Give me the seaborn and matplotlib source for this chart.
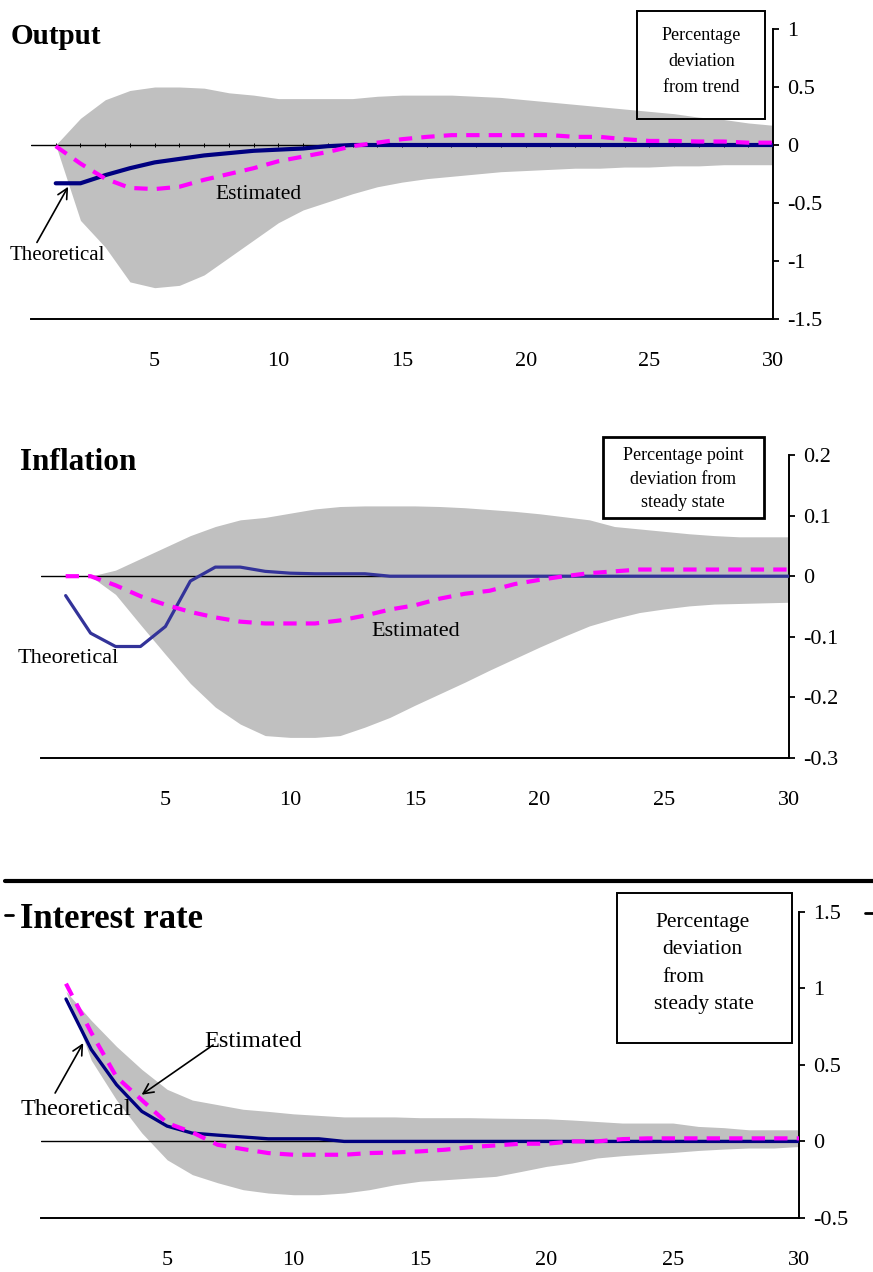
import numpy as np
import matplotlib.pyplot as plt
from matplotlib.patches import Rectangle
from matplotlib.lines import Line2D
import seaborn as sns

sns.set_style('white')
plt.rcParams['font.family'] = ['Liberation Serif', 'DejaVu Serif']
plt.rcParams['axes.unicode_minus'] = False
plt.rcParams['text.color'] = 'black'
plt.rcParams['xtick.color'] = 'black'
plt.rcParams['ytick.color'] = 'black'

W, H = 873, 1272
periods = np.arange(1, 31)
xticks = [0, 5, 10, 15, 20, 25, 30]
xlabels = ['', '5', '10', '15', '20', '25', '30']

# Output
out_upper = [0.0, 0.23, 0.39, 0.47, 0.50, 0.50, 0.49, 0.45, 0.43, 0.40,
             0.40, 0.40, 0.40, 0.42, 0.43, 0.43, 0.43, 0.42, 0.41, 0.39,
             0.37, 0.35, 0.33, 0.31, 0.29, 0.27, 0.24, 0.22, 0.19, 0.17]
out_lower = [0.0, -0.65, -0.88, -1.18, -1.23, -1.21, -1.12, -0.97, -0.82, -0.67,
             -0.56, -0.49, -0.42, -0.36, -0.32, -0.29, -0.27, -0.25, -0.23, -0.22,
             -0.21, -0.20, -0.20, -0.19, -0.19, -0.18, -0.18, -0.17, -0.17, -0.17]
out_theo = [-0.33, -0.33, -0.26, -0.20, -0.15, -0.12, -0.09, -0.07, -0.05, -0.04,
            -0.03, -0.01, 0, 0, 0, 0, 0, 0, 0, 0,
            0, 0, 0, 0, 0, 0, 0, 0, 0, 0]
out_est = [-0.01, -0.16, -0.29, -0.37, -0.38, -0.36, -0.30, -0.25, -0.20, -0.14,
           -0.10, -0.06, -0.01, 0.02, 0.05, 0.07, 0.085, 0.085, 0.085, 0.085,
           0.085, 0.07, 0.07, 0.05, 0.035, 0.035, 0.03, 0.03, 0.02, 0.02]
out_yticks = [-1.5, -1, -0.5, 0, 0.5, 1]
out_ylabels = ['-1.5', '-1', '-0.5', '0', '0.5', '1']

# Inflation
inf_upper = [0.0, 0.0, 0.01, 0.029, 0.048, 0.067, 0.082, 0.093, 0.097, 0.104,
             0.111, 0.115, 0.116, 0.116, 0.116, 0.115, 0.113, 0.110, 0.107, 0.103,
             0.098, 0.093, 0.082, 0.078, 0.074, 0.070, 0.067, 0.065, 0.065, 0.065]
inf_lower = [0.0, 0.0, -0.030, -0.080, -0.129, -0.177, -0.216, -0.244, -0.263, -0.266,
             -0.266, -0.263, -0.249, -0.233, -0.213, -0.194, -0.175, -0.155, -0.136, -0.117,
             -0.099, -0.082, -0.070, -0.060, -0.054, -0.049, -0.046, -0.045, -0.044, -0.043]
inf_theo = [-0.032, -0.094, -0.116, -0.116, -0.083, -0.008, 0.015, 0.015, 0.008, 0.005,
            0.004, 0.004, 0.004, 0, 0, 0, 0, 0, 0, 0,
            0, 0, 0, 0, 0, 0, 0, 0, 0, 0]
inf_est = [0.0, 0.0, -0.015, -0.033, -0.047, -0.059, -0.068, -0.075, -0.078, -0.078,
           -0.078, -0.073, -0.065, -0.055, -0.048, -0.037, -0.029, -0.024, -0.013, -0.006,
           0.0, 0.005, 0.008, 0.011, 0.011, 0.011, 0.011, 0.011, 0.011, 0.011]
inf_yticks = [-0.3, -0.2, -0.1, 0, 0.1, 0.2]
inf_ylabels = ['-0.3', '-0.2', '-0.1', '0', '0.1', '0.2']

# Interest rate
int_upper = [0.98, 0.79, 0.62, 0.47, 0.34, 0.27, 0.24, 0.21, 0.196, 0.18,
             0.17, 0.16, 0.16, 0.16, 0.155, 0.155, 0.155, 0.152, 0.15, 0.148,
             0.14, 0.13, 0.12, 0.12, 0.12, 0.098, 0.09, 0.076, 0.076, 0.076]
int_lower = [0.98, 0.53, 0.27, 0.055, -0.12, -0.217, -0.27, -0.315, -0.337, -0.348,
             -0.348, -0.337, -0.315, -0.283, -0.26, -0.25, -0.239, -0.228, -0.196, -0.163,
             -0.141, -0.108, -0.093, -0.082, -0.072, -0.059, -0.05, -0.043, -0.043, -0.033]
int_theo = [0.93, 0.60, 0.37, 0.196, 0.10, 0.054, 0.041, 0.029, 0.017, 0.017,
            0.017, 0, 0, 0, 0, 0, 0, 0, 0, 0,
            0, 0, 0, 0, 0, 0, 0, 0, 0, 0]
int_est = [1.03, 0.71, 0.42, 0.27, 0.12, 0.059, -0.022, -0.05, -0.076, -0.087,
           -0.087, -0.087, -0.076, -0.072, -0.065, -0.054, -0.037, -0.026, -0.015, -0.015,
           0.0, 0.0, 0.015, 0.02, 0.02, 0.02, 0.02, 0.02, 0.02, 0.02]
int_yticks = [-0.5, 0, 0.5, 1, 1.5]
int_ylabels = ['-0.5', '0', '0.5', '1', '1.5']


def fx(x):
    return x / W


def fy(y):
    return 1 - y / H


fig = plt.figure(figsize=(W / 100, H / 100), dpi=100)


def panel(rect_px, upper, lower, theo, est, yticks, ylabels, theo_color, theo_lw, est_lw):
    l, t, r, b = rect_px
    ax = fig.add_axes([fx(l), fy(b), (r - l) / W, (b - t) / H])
    ax.fill_between(periods, lower, upper, color='#c0c0c0', lw=0, zorder=1)
    ax.axhline(0, color='black', lw=1, zorder=2)
    sns.lineplot(x=periods, y=theo, ax=ax, color=theo_color, lw=theo_lw, zorder=3)
    sns.lineplot(x=periods, y=est, ax=ax, color='#ff00ff', lw=est_lw, zorder=4)
    ax.lines[-1].set_dashes((3.2, 2.2))
    ax.set_xlim(0, 30)
    ax.set_ylim(yticks[0], yticks[-1])
    ax.set_xticks(xticks)
    ax.set_xticklabels(xlabels)
    ax.set_yticks(yticks)
    ax.set_yticklabels(ylabels)
    ax.yaxis.tick_right()
    for s in ['top', 'left']:
        ax.spines[s].set_visible(False)
    for s in ['bottom', 'right']:
        ax.spines[s].set_color('black')
        ax.spines[s].set_linewidth(1.4)
    ax.tick_params(axis='x', direction='in', length=5, width=1.3, pad=24,
                   labelsize=16, colors='black')
    ax.tick_params(axis='y', direction='out', length=4, width=1.3, pad=6,
                   labelsize=16, colors='black', right=True, left=False)
    for lab in ax.get_yticklabels():
        lab.set_horizontalalignment('left')
    ax.set_xlabel('')
    ax.set_ylabel('')
    return ax


arrow = dict(arrowstyle='->', color='black', lw=1.2, mutation_scale=18,
             shrinkA=0, shrinkB=0)

# ---- Output
ax1 = panel((31, 29, 773, 319), out_upper, out_lower, out_theo, out_est,
            out_yticks, out_ylabels, '#000080', 3.0, 3.0)
ax1.plot(periods, np.zeros(len(periods)), ls='none', marker='|', ms=3,
         mew=0.7, color='black', zorder=2)
ax1.text(9.18, -0.43, 'Estimated', fontsize=15.5, ha='center', va='center')
ax1.text(1.05, -0.95, 'Theoretical', fontsize=15, ha='center', va='center',
         clip_on=False)
ax1.annotate('', xy=(1.5, -0.36), xytext=(0.24, -0.84), arrowprops=arrow,
             annotation_clip=False)
fig.text(fx(11), fy(37), 'Output', fontsize=21, fontweight='bold', va='center')
fig.add_artist(Rectangle((fx(637), fy(119)), 128 / W, 108 / H, transform=fig.transFigure,
                         fill=False, ec='black', lw=1.4))
for txt, yy in zip(['Percentage', 'deviation', 'from trend'], [36, 62, 88]):
    fig.text(fx(701.7), fy(yy), txt, fontsize=13, ha='center', va='center')

# ---- Inflation
ax2 = panel((40.7, 455, 789, 758), inf_upper, inf_lower, inf_theo, inf_est,
            inf_yticks, inf_ylabels, '#333399', 2.3, 3.0)
ax2.text(15.04, -0.092, 'Estimated', fontsize=16, ha='center', va='center')
ax2.text(1.11, -0.136, 'Theoretical', fontsize=16, ha='center', va='center',
         clip_on=False)
fig.text(fx(20), fy(462), 'Inflation', fontsize=22.5, fontweight='bold', va='center')
fig.add_artist(Rectangle((fx(603), fy(518)), 161 / W, 81 / H, transform=fig.transFigure,
                         fill=False, ec='black', lw=2.0))
for txt, yy in zip(['Percentage point', 'deviation from', 'steady state'], [456, 480, 503]):
    fig.text(fx(683.3), fy(yy), txt, fontsize=13, ha='center', va='center')

# ---- Interest rate
ax3 = panel((40.7, 911.7, 799.3, 1218), int_upper, int_lower, int_theo, int_est,
            int_yticks, int_ylabels, '#000080', 2.4, 3.0)
ax3.text(8.41, 0.652, 'Estimated', fontsize=17.5, ha='center', va='center')
ax3.annotate('', xy=(3.99, 0.305), xytext=(6.82, 0.63), arrowprops=arrow)
ax3.text(1.38, 0.207, 'Theoretical', fontsize=17.5, ha='center', va='center',
         clip_on=False)
ax3.annotate('', xy=(1.68, 0.642), xytext=(0.57, 0.316), arrowprops=arrow)
fig.text(fx(20), fy(920), 'Interest rate', fontsize=25, fontweight='bold', va='center')
fig.add_artist(Rectangle((fx(617), fy(1043)), 175 / W, 150 / H, transform=fig.transFigure,
                         fill=False, ec='black', lw=1.4))
fig.text(fx(703), fy(922.7), 'Percentage', fontsize=15.5, ha='center', va='center')
fig.text(fx(662), fy(949.3), 'deviation', fontsize=15.5, ha='left', va='center')
fig.text(fx(662), fy(977.3), 'from', fontsize=15.5, ha='left', va='center')
fig.text(fx(654), fy(1005), 'steady state', fontsize=15.5, ha='left', va='center')

# separator line and stray marks
fig.add_artist(Line2D([fx(5), fx(873)], [fy(880.7), fy(880.7)], transform=fig.transFigure,
                      color='black', lw=3))
fig.add_artist(Line2D([fx(5), fx(13)], [fy(915), fy(915)], transform=fig.transFigure,
                      color='black', lw=2))
fig.add_artist(Line2D([fx(865), fx(873)], [fy(913), fy(913)], transform=fig.transFigure,
                      color='black', lw=2))

fig.savefig('out.png', dpi=100)
